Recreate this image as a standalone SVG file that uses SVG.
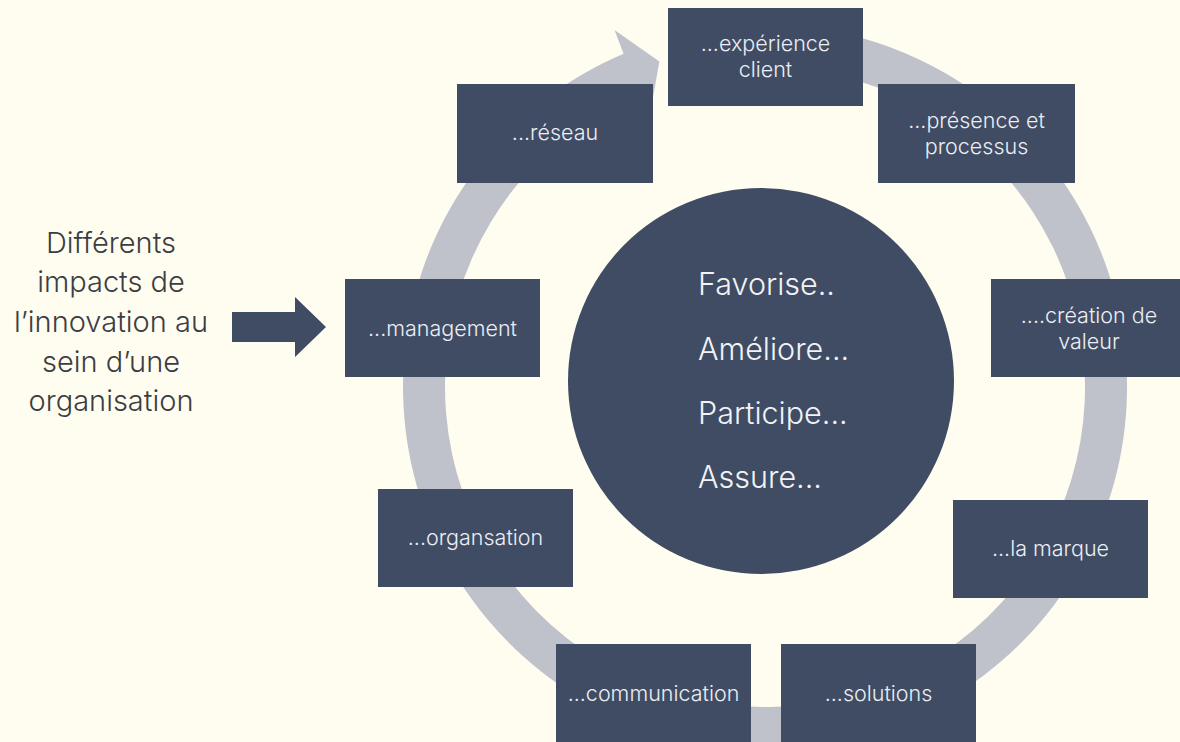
<svg xmlns="http://www.w3.org/2000/svg" width="1180" height="742" viewBox="0 0 1180 742">
<style>
.bg{fill:#fffdf0}
.box{fill:#3f4c64}
.ring{fill:#bfc2cb}
.bt{font-family:Inter,"Liberation Sans",sans-serif;font-weight:300;font-size:21.5px;fill:#eceef3;text-anchor:middle}
.ct{font-family:Inter,"Liberation Sans",sans-serif;font-weight:300;font-size:30.5px;fill:#f2f3f6}
.lt{font-family:Inter,"Liberation Sans",sans-serif;font-weight:300;font-size:29px;fill:#3c3d44;text-anchor:middle}
</style>
<rect class="bg" x="0" y="0" width="1180" height="742"/>
<g id="connectors">
<path id="cycle" class="ring" d="M714.62,28.52 A362,362 0 1 1 623.56,53.78 L614.5,30 L659.4,61.4 L649.73,115.45 L639.97,92.44 A320,320 0 1 0 720.47,70.11 Z"/>
<polygon id="input-arrow" class="box" points="232,312 295,312 295,297 326,327 295,357 295,342 232,342"/>
</g>
<g id="intro">
<text class="lt" x="111" y="253">Différents</text>
<text class="lt" x="111" y="292">impacts de</text>
<text class="lt" x="111" y="332">l’innovation au</text>
<text class="lt" x="111" y="372">sein d’une</text>
<text class="lt" x="111" y="411">organisation</text>
</g>
<g id="center">
<circle class="box" cx="761" cy="381" r="193"/>
<text class="ct" x="698" y="295">Favorise..</text>
<text class="ct" x="698" y="360">Améliore...</text>
<text class="ct" x="698" y="424">Participe...</text>
<text class="ct" x="698" y="488">Assure...</text>
</g>
<g id="experience-client">
<rect class="box" x="668" y="8" width="195" height="98"/>
<text class="bt" x="765.5" y="51">...expérience</text>
<text class="bt" x="765.5" y="77">client</text>
</g>
<g id="presence-processus">
<rect class="box" x="878" y="84" width="197" height="99"/>
<text class="bt" x="976.5" y="128">...présence et</text>
<text class="bt" x="976.5" y="154">processus</text>
</g>
<g id="creation-valeur">
<rect class="box" x="991" y="279" width="195" height="98"/>
<text class="bt" x="1089" y="323">....création de</text>
<text class="bt" x="1089" y="349">valeur</text>
</g>
<g id="la-marque">
<rect class="box" x="953" y="500" width="195" height="98"/>
<text class="bt" x="1050.5" y="556">...la marque</text>
</g>
<g id="solutions">
<rect class="box" x="781" y="644" width="195" height="100"/>
<text class="bt" x="878.5" y="701">...solutions</text>
</g>
<g id="communication">
<rect class="box" x="556" y="644" width="195" height="100"/>
<text class="bt" x="653.5" y="701">...communication</text>
</g>
<g id="organsation">
<rect class="box" x="378" y="489" width="195" height="98"/>
<text class="bt" x="475.5" y="545">...organsation</text>
</g>
<g id="management">
<rect class="box" x="345" y="279" width="195" height="98"/>
<text class="bt" x="442.5" y="336">...management</text>
</g>
<g id="reseau">
<rect class="box" x="457" y="84" width="196" height="99"/>
<text class="bt" x="555" y="140">...réseau</text>
</g>
</svg>
